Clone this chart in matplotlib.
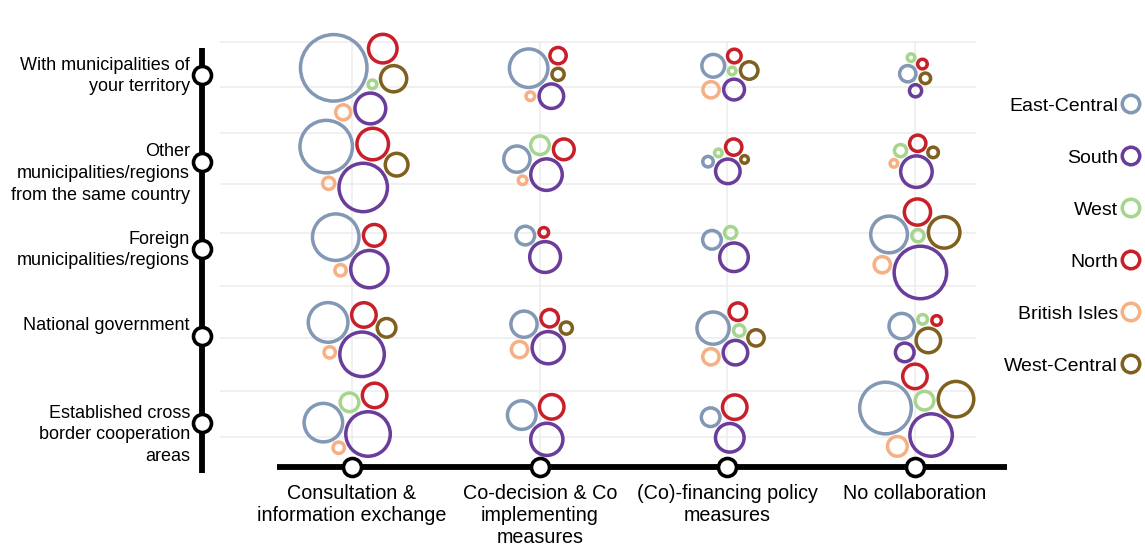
import numpy as np
import matplotlib
matplotlib.use("Agg")
import matplotlib.pyplot as plt

plt.rcParams['font.family'] = ['Liberation Sans', 'DejaVu Sans']

# ---------------- data ----------------
row_labels = ["With municipalities of\nyour territory",
              "Other\nmunicipalities/regions\nfrom the same country",
              "Foreign\nmunicipalities/regions",
              "National government",
              "Established cross\nborder cooperation\nareas"]
col_labels = ["Consultation &\ninformation exchange",
              "Co-decision & Co\nimplementing\nmeasures",
              "(Co)-financing policy\nmeasures",
              "No collaboration"]
regions = ["East-Central", "South", "West", "North", "British Isles", "West-Central"]

# values per region: rows (partner) x columns (collaboration type), bubble area ~ value
east_central  = [[100, 36, 14, 8], [64, 18, 4, 0], [51, 10, 10, 33], [38, 18, 26, 17], [36, 21, 10, 62]]
south         = [[24, 16, 12, 5], [55, 25, 16, 25], [34, 24, 21, 64], [47, 26, 16, 10], [47, 26, 21, 43]]
west          = [[3, 0, 2.5, 2.5], [0, 10, 2.5, 5], [0, 0, 5, 5], [0, 0, 4.5, 3.5], [10, 0, 0, 10]]
north         = [[21, 8, 6, 3.5], [25, 12, 8, 8], [13, 3.5, 0, 18], [16, 9, 9, 3.5], [16, 16, 16, 16]]
british_isles = [[7, 3, 8, 0], [5, 3, 0, 2.5], [4.5, 0, 0, 8], [4.5, 8, 8, 0], [4.5, 0, 0, 11]]
west_central  = [[18, 5, 9, 4], [14, 0, 2.5, 4], [0, 0, 0, 25], [10, 5, 8, 16], [0, 0, 0, 31]]

series = [east_central, south, west, north, british_isles, west_central]

# ---------------- style ----------------
colors = ['#8298b5', '#6a3d9a', '#a6d58e', '#c8202a', '#f6b083', '#80601f']
start_angles = np.deg2rad([150, -60, 110, 45, 235, 0])  # initial direction for packing
W, H, DPI = 1145, 545, 100
COL0, COL_STEP = 352.0, 187.7
ROW0, ROW_STEP = 75.0, 87.0
R_SCALE = 3.5          # px outer radius per sqrt(value)
LW_PX = 3.5
grid_rows = [-0.38, 0.14, 0.67, 1.25, 1.82, 2.43, 3.02, 3.63, 4.16]
BOTTOM_LIMIT_PX = 458   # bubbles stay above the x axis line
TOP_LIMIT_PX = 14


def dx(px):
    return (px - COL0) / COL_STEP


def dy(py):
    return (py - ROW0) / ROW_STEP


fig = plt.figure(figsize=(W / DPI, H / DPI), dpi=DPI)
fig.patch.set_facecolor('white')
ax = fig.add_axes([0, 0, 1, 1])
ax.set_xlim(dx(0), dx(W))
ax.set_ylim(dy(H), dy(0))
ax.axis('off')

# gridlines
ax.hlines(grid_rows, dx(220), dx(976), color='#ececec', lw=1.1, zorder=0)
ax.vlines(range(len(col_labels)), dy(42), dy(455), color='#ececec', lw=1.1, zorder=0)

# axes lines with dots
ax.plot([dx(202), dx(202)], [dy(48), dy(473)], color='black', lw=4.2, solid_capstyle='butt', zorder=3)
ax.plot([dx(277), dx(1007)], [dy(467), dy(467)], color='black', lw=4.2, solid_capstyle='butt', zorder=3)
ax.scatter([dx(202)] * len(row_labels), range(len(row_labels)), s=(18 * 0.72) ** 2,
           facecolor='white', edgecolor='black', linewidths=2.6, zorder=6)
ax.scatter(range(len(col_labels)), [dy(467)] * len(col_labels), s=(18 * 0.72) ** 2,
           facecolor='white', edgecolor='black', linewidths=2.6, zorder=6)

# labels
for j, lab in enumerate(row_labels):
    ax.text(dx(190), j - 18.5 / ROW_STEP, lab, ha='right', va='top', fontsize=13,
            linespacing=1.37, color='black')
for i, lab in enumerate(col_labels):
    ax.text(i, dy(484), lab, ha='center', va='top', fontsize=14.2, linespacing=1.19,
            color='black', multialignment='center')

# ---------------- bubble packing: all bubbles together, in display px ----------------
nodes = []   # (row, col, region, radius)
for r in range(len(row_labels)):
    for c in range(len(col_labels)):
        for k in range(len(regions)):
            v = series[k][r][c]
            if v > 0:
                nodes.append((r, c, k, R_SCALE * np.sqrt(v)))
radii = np.array([n[3] for n in nodes])
targets = np.array([ax.transData.transform((n[1], n[0])) for n in nodes])
angles = np.array([start_angles[n[2]] for n in nodes])
pos = targets + (radii * 0.9 + 6)[:, None] * np.column_stack([np.cos(angles), np.sin(angles)])

PAD = 1.0
mass = radii ** 2
wmat = mass[None, :] / (mass[:, None] + mass[None, :])
mind = radii[:, None] + radii[None, :] + PAD
np.fill_diagonal(mind, 0)
y_low = (H - BOTTOM_LIMIT_PX) + radii     # display coords (y up)
y_high = (H - TOP_LIMIT_PX) - radii


def collide(p):
    d = p[None, :, :] - p[:, None, :]          # d[i, j] = p[j] - p[i]
    dist = np.hypot(d[..., 0], d[..., 1])
    np.fill_diagonal(dist, 1.0)
    ov = np.clip(mind - dist, 0, None)
    u = d / dist[..., None]
    disp = -(u * (ov * wmat)[..., None]).sum(axis=1)
    p = p + 0.6 * disp
    p[:, 1] = np.clip(p[:, 1], y_low, y_high)
    return p


for it in range(500):
    pos += (targets - pos) * 0.02
    for _ in range(3):
        pos = collide(pos)
for _ in range(300):
    pos = collide(pos)

dpos = ax.transData.inverted().transform(pos)
for i, n in enumerate(nodes):
    diam_pt = 2 * (radii[i] - LW_PX / 2) * 72 / DPI
    ax.scatter([dpos[i, 0]], [dpos[i, 1]], s=diam_pt ** 2, facecolor='none',
               edgecolor=colors[n[2]], linewidths=LW_PX * 72 / DPI, zorder=5)

# ---------------- legend ----------------
for k, name in enumerate(regions):
    ly = 104 + 52 * k
    ax.scatter([dx(1131)], [dy(ly)], s=(2 * (10.5 - LW_PX / 2) * 0.72) ** 2, facecolor='none',
               edgecolor=colors[k], linewidths=LW_PX * 0.72, zorder=5)
    ax.text(dx(1118), dy(ly + 7), name, ha='right', va='baseline', fontsize=14, color='black')

fig.savefig('out.png', dpi=DPI)
